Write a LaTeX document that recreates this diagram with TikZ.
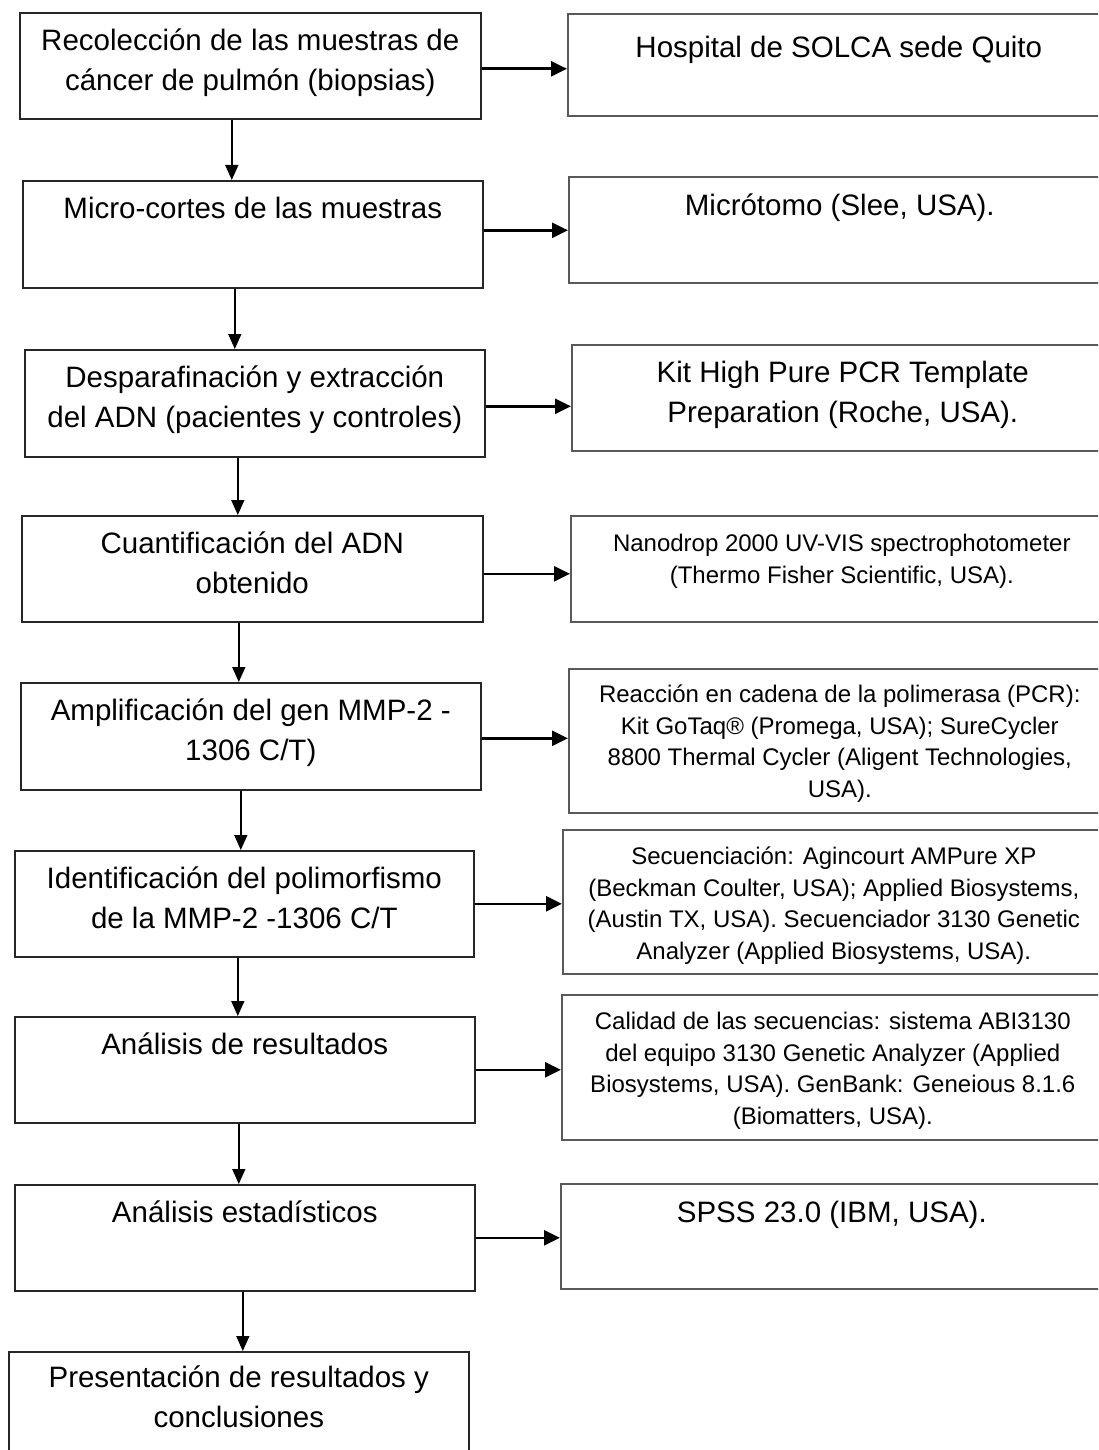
\documentclass[tikz,border=0pt]{standalone}
\usepackage{fontspec}
\setmainfont{Liberation Sans}
\usetikzlibrary{arrows.meta}
\newcommand{\boxtext}[4]{\begin{minipage}[c][#2][t]{#1}\centering\rule{0pt}{#3}#4\end{minipage}}
\newcommand{\bigtxt}{\fontsize{29.5}{40}\selectfont}
\newcommand{\smalltxt}{\fontsize{24}{31.5}\selectfont}
\tikzset{stage/.style = {draw=black!85, line width=1.6pt, inner sep=0pt, anchor=north west, font=\bigtxt},
         tool/.style = {draw=black!65, line width=1.6pt, inner sep=0pt, anchor=north west},
         flow/.style = {line width=1.6pt, -{Triangle[length=15pt,width=13pt]}},
         feed/.style = {line width=2.6pt, -{Triangle[length=16pt,width=15pt]}},
}

\begin{document}
\begin{tikzpicture}[x=1pt, y=-1pt]

  \useasboundingbox (0,0) rectangle (1098,1450);
  \fill[white] (0,0) rectangle (1098,1450);
  \clip (0,0) rectangle (1098,1450);

  % left column
  \node[stage] (rec) at (19,12) {\boxtext{461pt}{106pt}{38pt}{Recolección de las muestras de\\cáncer de pulmón (biopsias)}};
  \node[stage] (micro) at (22,180) {\boxtext{460pt}{107pt}{38pt}{Micro-cortes de las muestras}};
  \node[stage] (desp) at (24,349) {\boxtext{460pt}{107pt}{38pt}{Desparafinación y extracción\\del ADN (pacientes y controles)}};
  \node[stage] (cuant) at (21,515) {\boxtext{461pt}{106pt}{38pt}{Cuantificación del ADN\\obtenido}};
  \node[stage] (ampl) at (20,682) {\boxtext{460pt}{107pt}{38pt}{Amplificación del gen MMP-2 -\\1306 C/T)}};
  \node[stage] (ident) at (14,850) {\boxtext{459pt}{106pt}{38pt}{Identificación del polimorfismo\\de la MMP-2 -1306 C/T}};
  \node[stage] (anal) at (14,1016) {\boxtext{460pt}{106pt}{38pt}{Análisis de resultados}};
  \node[stage] (estad) at (14,1184) {\boxtext{460pt}{106pt}{38pt}{Análisis estadísticos}};
  \node[stage] (pres) at (8,1351) {\boxtext{460pt}{130pt}{36pt}{Presentación de resultados y\\conclusiones}};

  % right column
  \node[tool, font=\bigtxt] (hosp) at (567,13) {\boxtext{542pt}{102pt}{44pt}{Hospital de SOLCA sede Quito}};
  \node[tool, font=\bigtxt] (micr) at (568,176) {\boxtext{542pt}{106pt}{39pt}{Micrótomo (Slee, USA).}};
  \node[tool, font=\bigtxt] (kit) at (571,344) {\boxtext{542pt}{106pt}{38pt}{Kit High Pure PCR Template\\Preparation (Roche, USA).}};
  \node[tool, font=\smalltxt] (nano) at (570,515) {\boxtext{542pt}{106pt}{36pt}{Nanodrop 2000 UV-VIS spectrophotometer\\(Thermo Fisher Scientific, USA).}};
  \node[tool, font=\smalltxt] (pcr) at (568,668) {\boxtext{542pt}{144pt}{34pt}{Reacción en cadena de la polimerasa (PCR):\\Kit GoTaq® (Promega, USA); SureCycler\\8800 Thermal Cycler (Aligent Technologies,\\USA).}};
  \node[tool, font=\smalltxt] (sec) at (562,829) {\boxtext{542pt}{144pt}{35pt}{Secuenciación: Agincourt AMPure XP\\(Beckman Coulter, USA); Applied Biosystems,\\(Austin TX, USA). Secuenciador 3130 Genetic\\Analyzer (Applied Biosystems, USA).}};
  \node[tool, font=\smalltxt] (cal) at (561,994) {\boxtext{542pt}{145pt}{35pt}{Calidad de las secuencias: sistema ABI3130\\del equipo 3130 Genetic Analyzer (Applied\\Biosystems, USA). GenBank: Geneious 8.1.6\\(Biomatters, USA).}};
  \node[tool, font=\bigtxt] (spss) at (560,1183) {\boxtext{542pt}{105pt}{39pt}{SPSS 23.0 (IBM, USA).}};

  % vertical flow
  \draw[flow] ([xshift=-18.5pt]rec.south) -- ([xshift=-18.5pt]rec.south |- micro.north);
  \draw[flow] ([xshift=-18pt]micro.south) -- ([xshift=-18pt]micro.south |- desp.north);
  \draw[flow] ([xshift=-17pt]desp.south) -- ([xshift=-17pt]desp.south |- cuant.north);
  \draw[flow] ([xshift=-13.5pt]cuant.south) -- ([xshift=-13.5pt]cuant.south |- ampl.north);
  \draw[flow] ([xshift=-10pt]ampl.south) -- ([xshift=-10pt]ampl.south |- ident.north);
  \draw[flow] ([xshift=-6.5pt]ident.south) -- ([xshift=-6.5pt]ident.south |- anal.north);
  \draw[flow] ([xshift=-6pt]anal.south) -- ([xshift=-6pt]anal.south |- estad.north);
  \draw[flow] ([xshift=-2pt]estad.south) -- ([xshift=-2pt]estad.south |- pres.north);

  % side arrows
  \draw[feed] ([yshift=-3pt]rec.east) -- ([yshift=-3pt]rec.east -| hosp.west);
  \draw[feed] ([yshift=4pt]micro.east) -- ([yshift=4pt]micro.east -| micr.west);
  \draw[feed] ([yshift=-3pt]desp.east) -- ([yshift=-3pt]desp.east -| kit.west);
  \draw[feed] ([yshift=-5pt]cuant.east) -- ([yshift=-5pt]cuant.east -| nano.west);
  \draw[feed] ([yshift=-2pt]ampl.east) -- ([yshift=-2pt]ampl.east -| pcr.west);
  \draw[feed] (ident.east) -- (ident.east -| sec.west);
  \draw[feed] (anal.east) -- (anal.east -| cal.west);
  \draw[feed] (estad.east) -- (estad.east -| spss.west);

\end{tikzpicture}
\end{document}
